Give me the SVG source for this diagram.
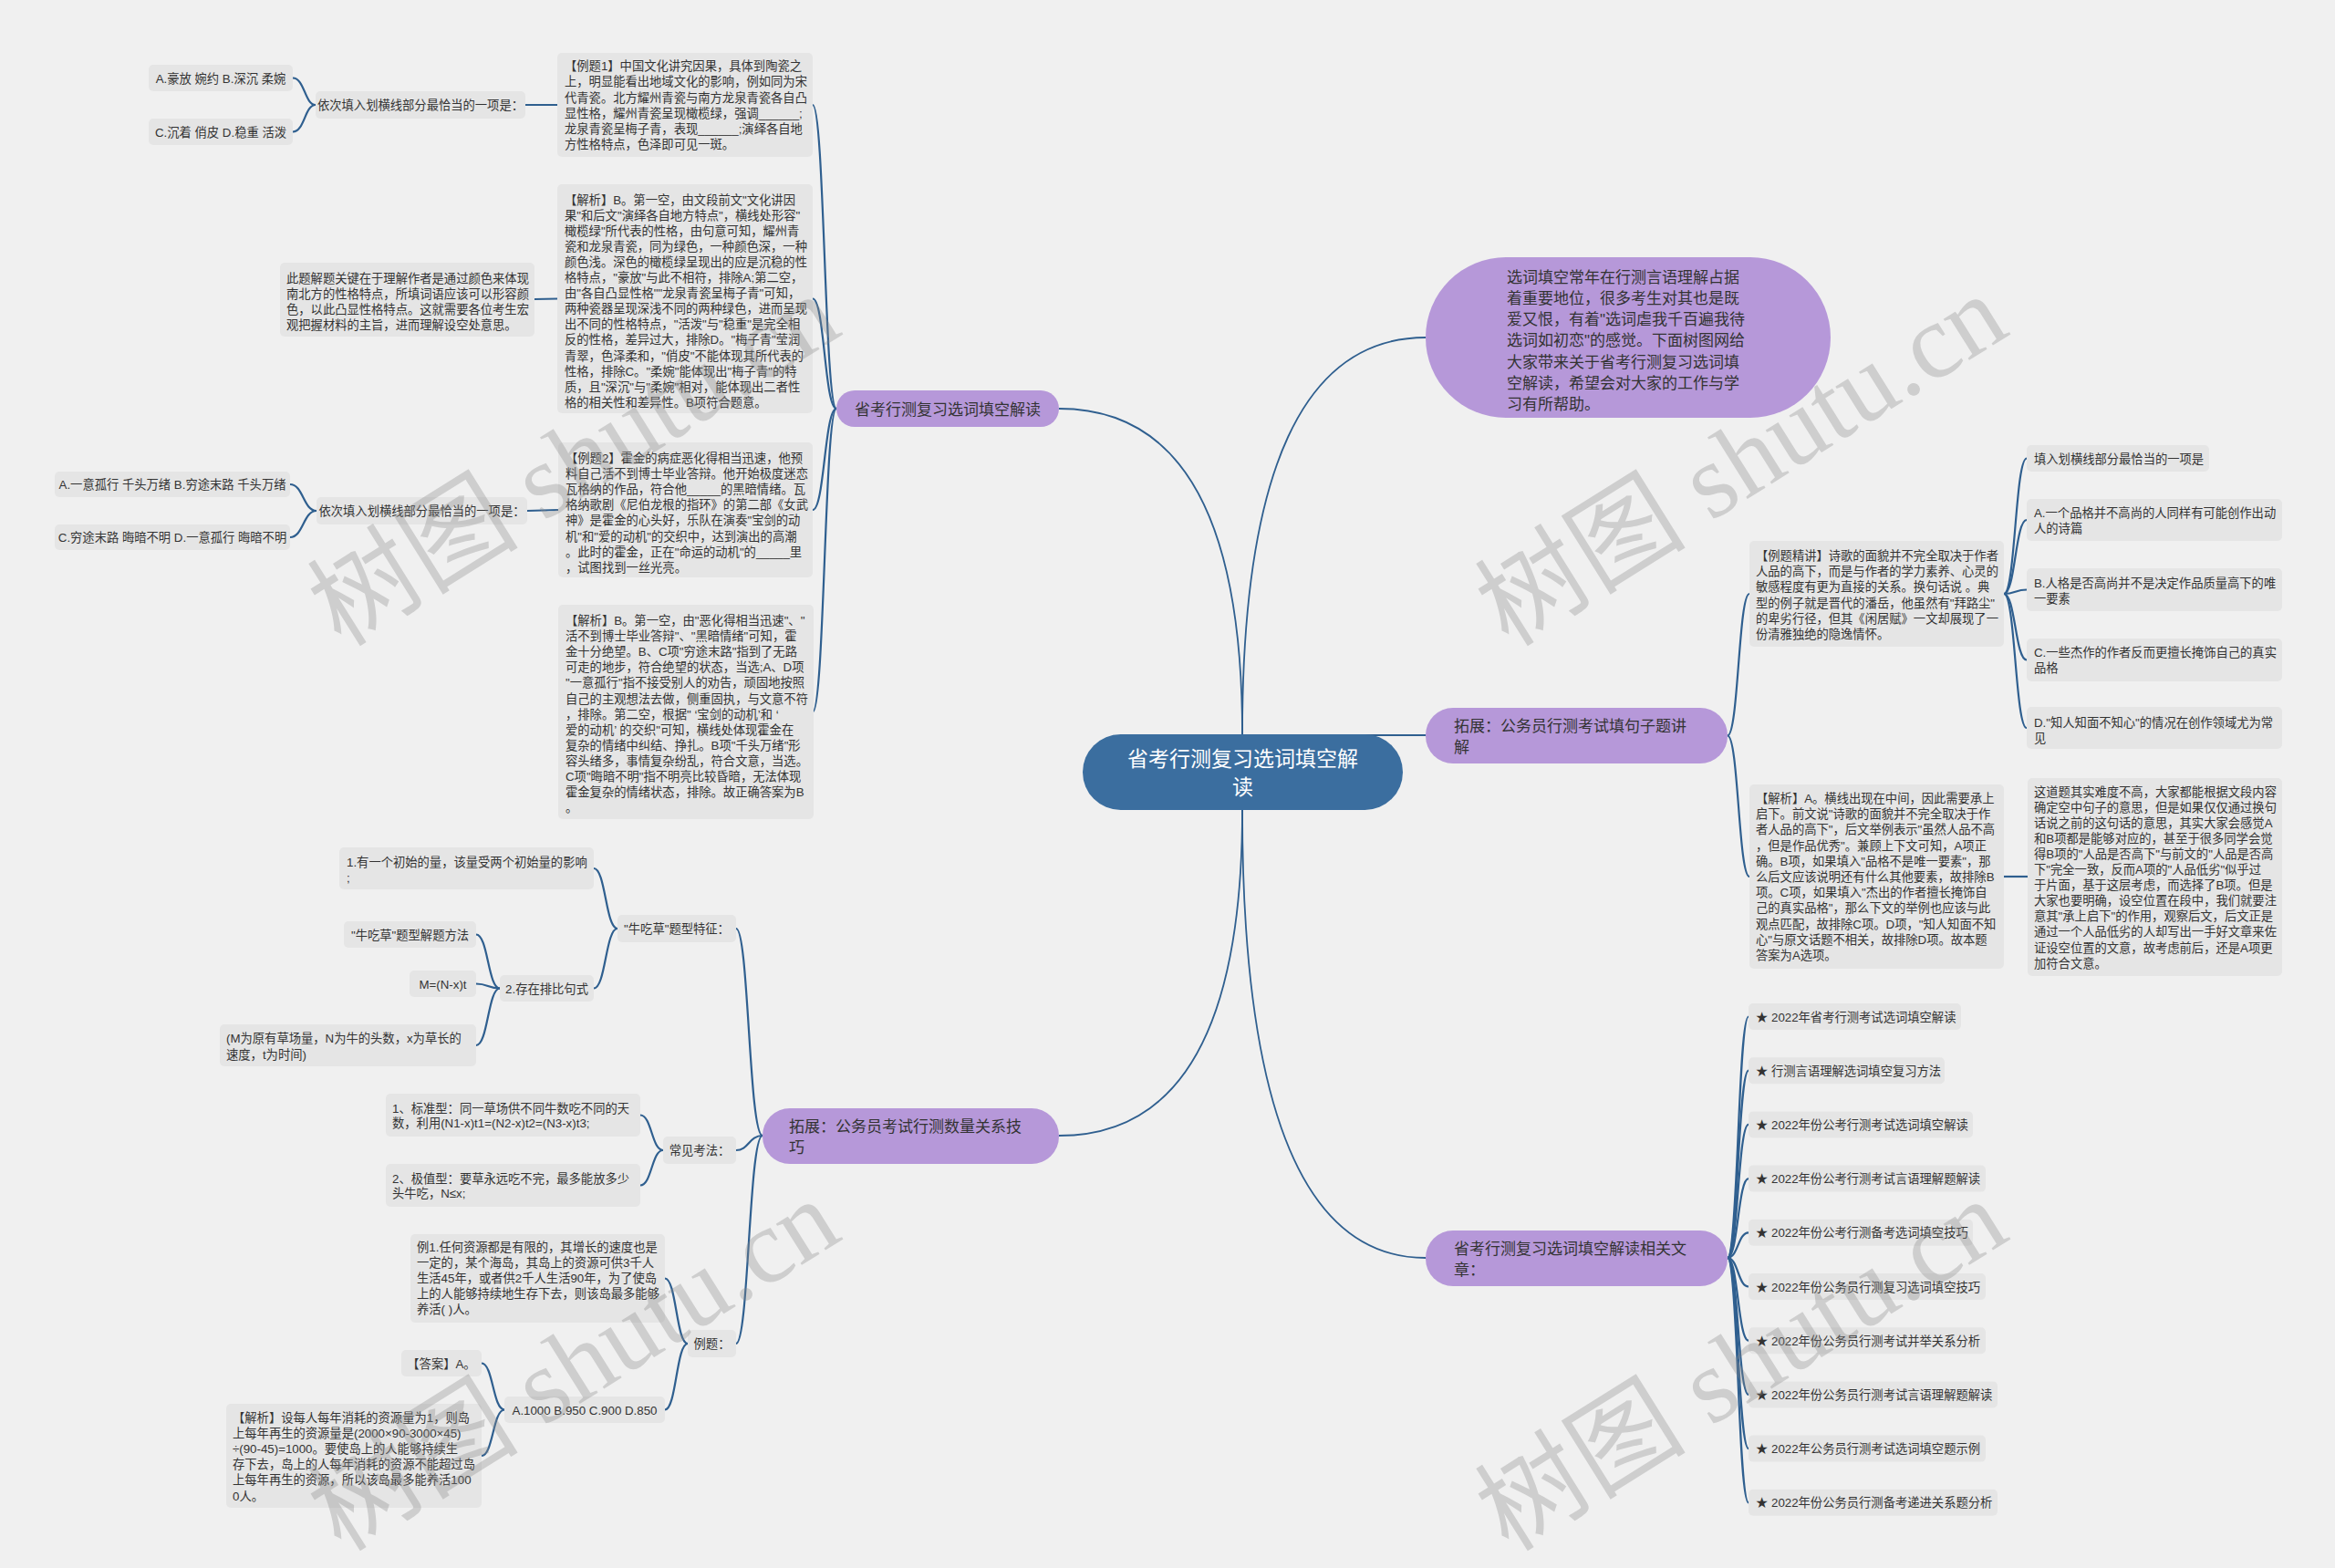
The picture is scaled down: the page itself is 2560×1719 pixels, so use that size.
<svg xmlns="http://www.w3.org/2000/svg" width="2560" height="1719" viewBox="0 0 2560 1719">
<style>
.bg{fill:#f0f0f0}
.lf{fill:#e5e5e5}
.l1{fill:#b698d9}
.rt{fill:#3b6e9f}
text{font-family:"Liberation Sans","Noto Sans CJK SC",sans-serif;fill:#333}
.s{font-size:13.3px}
.m{font-size:17px}
.r{font-size:23px;fill:#ffffff}
.mid{text-anchor:middle}
.cn{fill:none;stroke:#2f5f8f;stroke-width:2.2}
.mn{fill:none;stroke:#2f5f8f;stroke-width:1.8}
.wm{font-family:"Liberation Serif","Noto Sans CJK SC",serif;font-size:116px;fill:#8a8a8a;opacity:0.33;text-anchor:middle}
</style>
<rect class="bg" x="0" y="0" width="2560" height="1719"/>
<g id="connectors">
<path class="mn" d="M1362,805 Q1362,448 1161,448"/>
<path class="mn" d="M1362,888 Q1362,1245 1161,1245"/>
<path class="mn" d="M1362,805 Q1362,370 1563,370"/>
<path class="mn" d="M1362,806 L1563,806"/>
<path class="mn" d="M1362,888 Q1362,1379 1563,1379"/>
<path class="cn" d="M917,448 C904,448 904,115 891,115"/>
<path class="cn" d="M917,448 C904,448 904,327.5 891,327.5"/>
<path class="cn" d="M917,448 C904,448 904,559 891,559"/>
<path class="cn" d="M917,448 C904,448 904,780.5 891,780.5"/>
<path class="cn" d="M611,115 L576,115"/>
<path class="cn" d="M346,115 C334,115 334,85.5 321,85.5"/>
<path class="cn" d="M346,115 C334,115 334,144.5 321,144.5"/>
<path class="cn" d="M611,327.5 L586,328"/>
<path class="cn" d="M612,559 L578,560"/>
<path class="cn" d="M347,560 C332.5,560 332.5,531 318,531"/>
<path class="cn" d="M347,560 C332.5,560 332.5,589 318,589"/>
<path class="cn" d="M836,1245 C821,1245 821,1018 807,1018"/>
<path class="cn" d="M836,1245 C821,1245 821,1261 807,1261"/>
<path class="cn" d="M836,1245 C821,1245 821,1473 807,1473"/>
<path class="cn" d="M677,1018 C664,1018 664,952 651,952"/>
<path class="cn" d="M677,1018 C664,1018 664,1083.5 651,1083.5"/>
<path class="cn" d="M548,1083.5 C535,1083.5 535,1024.5 522,1024.5"/>
<path class="cn" d="M548,1083.5 C535,1083.5 535,1078.5 522,1078.5"/>
<path class="cn" d="M548,1083.5 C535,1083.5 535,1146 522,1146"/>
<path class="cn" d="M727,1261 C714.5,1261 714.5,1222.5 702,1222.5"/>
<path class="cn" d="M727,1261 C714.5,1261 714.5,1299.5 702,1299.5"/>
<path class="cn" d="M754,1473 C741.5,1473 741.5,1401.5 729,1401.5"/>
<path class="cn" d="M754,1473 C741.5,1473 741.5,1545.5 729,1545.5"/>
<path class="cn" d="M553,1545.5 C540.5,1545.5 540.5,1494.5 528,1494.5"/>
<path class="cn" d="M553,1545.5 C540.5,1545.5 540.5,1596 528,1596"/>
<path class="cn" d="M1894,806.5 C1906,806.5 1906,651 1918,651"/>
<path class="cn" d="M1894,806.5 C1906,806.5 1906,961 1918,961"/>
<path class="cn" d="M2197,651 C2209.5,651 2209.5,502.5 2222,502.5"/>
<path class="cn" d="M2197,651 C2209.5,651 2209.5,570 2222,570"/>
<path class="cn" d="M2197,651 C2209.5,651 2209.5,646.5 2222,646.5"/>
<path class="cn" d="M2197,651 C2209.5,651 2209.5,723.5 2222,723.5"/>
<path class="cn" d="M2197,651 C2209.5,651 2209.5,798 2222,798"/>
<path class="cn" d="M2197,961 L2223,961"/>
<path class="cn" d="M1894,1379 C1905.5,1379 1905.5,1114.5 1917,1114.5"/>
<path class="cn" d="M1894,1379 C1905.5,1379 1905.5,1173.7 1917,1173.7"/>
<path class="cn" d="M1894,1379 C1905.5,1379 1905.5,1232.9 1917,1232.9"/>
<path class="cn" d="M1894,1379 C1905.5,1379 1905.5,1292.1 1917,1292.1"/>
<path class="cn" d="M1894,1379 C1905.5,1379 1905.5,1351.3 1917,1351.3"/>
<path class="cn" d="M1894,1379 C1905.5,1379 1905.5,1410.5 1917,1410.5"/>
<path class="cn" d="M1894,1379 C1905.5,1379 1905.5,1469.7 1917,1469.7"/>
<path class="cn" d="M1894,1379 C1905.5,1379 1905.5,1528.9 1917,1528.9"/>
<path class="cn" d="M1894,1379 C1905.5,1379 1905.5,1588.1 1917,1588.1"/>
<path class="cn" d="M1894,1379 C1905.5,1379 1905.5,1647.3 1917,1647.3"/>
</g>
<g id="root"><rect class="rt" x="1187" y="805" width="351" height="83" rx="41.5"/><text class="r mid"><tspan x="1362.5" y="840">省考行测复习选词填空解</tspan><tspan x="1362.5" y="871">读</tspan></text></g>
<g id="n-left-a"><rect class="l1" x="917" y="428" width="244" height="40" rx="20"/><text class="m mid" x="1039" y="454.5">省考行测复习选词填空解读</text></g>
<g id="n-left-b"><rect class="l1" x="836" y="1215" width="325" height="61" rx="30"/><text class="m"><tspan x="865" y="1240.5">拓展：公务员考试行测数量关系技</tspan><tspan x="865" y="1263.5">巧</tspan></text></g>
<g id="n-intro"><rect class="l1" x="1563" y="282" width="444" height="176" rx="88"/><text class="m"><tspan x="1652" y="309.5">选词填空常年在行测言语理解占据</tspan><tspan x="1652" y="332.8">着重要地位，很多考生对其也是既</tspan><tspan x="1652" y="356.1">爱又恨，有着"选词虐我千百遍我待</tspan><tspan x="1652" y="379.4">选词如初恋"的感觉。下面树图网给</tspan><tspan x="1652" y="402.7">大家带来关于省考行测复习选词填</tspan><tspan x="1652" y="426">空解读，希望会对大家的工作与学</tspan><tspan x="1652" y="449.3">习有所帮助。</tspan></text></g>
<g id="n-right-d"><rect class="l1" x="1563" y="776" width="331" height="61" rx="30"/><text class="m"><tspan x="1594" y="801.5">拓展：公务员行测考试填句子题讲</tspan><tspan x="1594" y="824.5">解</tspan></text></g>
<g id="n-right-e"><rect class="l1" x="1563" y="1349" width="331" height="61" rx="30"/><text class="m"><tspan x="1594" y="1374.5">省考行测复习选词填空解读相关文</tspan><tspan x="1594" y="1397.5">章：</tspan></text></g>
<g id="n-ex1"><rect class="lf" x="611" y="58" width="280" height="114" rx="5"/><text class="s"><tspan x="619" y="77.3">【例题1】中国文化讲究因果，具体到陶瓷之</tspan><tspan x="619" y="94.4">上，明显能看出地域文化的影响，例如同为宋</tspan><tspan x="619" y="111.5">代青瓷。北方耀州青瓷与南方龙泉青瓷各自凸</tspan><tspan x="619" y="128.6">显性格，耀州青瓷呈现橄榄绿，强调______;</tspan><tspan x="619" y="145.7">龙泉青瓷呈梅子青，表现______;演绎各自地</tspan><tspan x="619" y="162.8">方性格特点，色泽即可见一斑。</tspan></text></g>
<g id="n-q1"><rect class="lf" x="346" y="100" width="230" height="30" rx="5"/><text class="s mid" x="461" y="120">依次填入划横线部分最恰当的一项是：</text></g>
<g id="n-q1a"><rect class="lf" x="163" y="71" width="158" height="29" rx="5"/><text class="s mid" x="242" y="90.5">A.豪放 婉约 B.深沉 柔婉</text></g>
<g id="n-q1c"><rect class="lf" x="163" y="130" width="158" height="29" rx="5"/><text class="s mid" x="242" y="149.5">C.沉着 俏皮 D.稳重 活泼</text></g>
<g id="n-ana1"><rect class="lf" x="611" y="202" width="280" height="251" rx="5"/><text class="s"><tspan x="619" y="223.5">【解析】B。第一空，由文段前文"文化讲因</tspan><tspan x="619" y="240.6">果"和后文"演绎各自地方特点"，横线处形容"</tspan><tspan x="619" y="257.7">橄榄绿"所代表的性格，由句意可知，耀州青</tspan><tspan x="619" y="274.8">瓷和龙泉青瓷，同为绿色，一种颜色深，一种</tspan><tspan x="619" y="291.9">颜色浅。深色的橄榄绿呈现出的应是沉稳的性</tspan><tspan x="619" y="309">格特点，"豪放"与此不相符，排除A;第二空，</tspan><tspan x="619" y="326.1">由"各自凸显性格""龙泉青瓷呈梅子青"可知，</tspan><tspan x="619" y="343.2">两种瓷器呈现深浅不同的两种绿色，进而呈现</tspan><tspan x="619" y="360.3">出不同的性格特点，"活泼"与"稳重"是完全相</tspan><tspan x="619" y="377.4">反的性格，差异过大，排除D。"梅子青"莹润</tspan><tspan x="619" y="394.5">青翠，色泽柔和，"俏皮"不能体现其所代表的</tspan><tspan x="619" y="411.6">性格，排除C。"柔婉"能体现出"梅子青"的特</tspan><tspan x="619" y="428.7">质，且"深沉"与"柔婉"相对，能体现出二者性</tspan><tspan x="619" y="445.8">格的相关性和差异性。B项符合题意。</tspan></text></g>
<g id="n-ana1-note"><rect class="lf" x="307" y="288" width="279" height="81" rx="5"/><text class="s"><tspan x="314" y="310">此题解题关键在于理解作者是通过颜色来体现</tspan><tspan x="314" y="327">南北方的性格特点，所填词语应该可以形容颜</tspan><tspan x="314" y="344">色，以此凸显性格特点。这就需要各位考生宏</tspan><tspan x="314" y="361">观把握材料的主旨，进而理解设空处意思。</tspan></text></g>
<g id="n-ex2"><rect class="lf" x="612" y="485" width="279" height="148" rx="5"/><text class="s"><tspan x="620" y="507">【例题2】霍金的病症恶化得相当迅速，他预</tspan><tspan x="620" y="524.1">料自己活不到博士毕业答辩。他开始极度迷恋</tspan><tspan x="620" y="541.2">瓦格纳的作品，符合他_____的黑暗情绪。瓦</tspan><tspan x="620" y="558.3">格纳歌剧《尼伯龙根的指环》的第二部《女武</tspan><tspan x="620" y="575.4">神》是霍金的心头好，乐队在演奏"宝剑的动</tspan><tspan x="620" y="592.5">机"和"爱的动机"的交织中，达到演出的高潮</tspan><tspan x="620" y="609.6">。此时的霍金，正在"命运的动机"的_____里</tspan><tspan x="620" y="626.7">，试图找到一丝光亮。</tspan></text></g>
<g id="n-q2"><rect class="lf" x="347" y="545" width="231" height="30" rx="5"/><text class="s mid" x="462.5" y="565">依次填入划横线部分最恰当的一项是：</text></g>
<g id="n-q2a"><rect class="lf" x="60" y="517" width="258" height="28" rx="5"/><text class="s mid" x="189" y="536">A.一意孤行 千头万绪 B.穷途末路 千头万绪</text></g>
<g id="n-q2c"><rect class="lf" x="60" y="575" width="258" height="28" rx="5"/><text class="s mid" x="189" y="594">C.穷途末路 晦暗不明 D.一意孤行 晦暗不明</text></g>
<g id="n-ana2"><rect class="lf" x="612" y="663" width="280" height="235" rx="5"/><text class="s"><tspan x="620" y="685">【解析】B。第一空，由"恶化得相当迅速"、"</tspan><tspan x="620" y="702.1">活不到博士毕业答辩"、"黑暗情绪"可知，霍</tspan><tspan x="620" y="719.2">金十分绝望。B、C项"穷途末路"指到了无路</tspan><tspan x="620" y="736.3">可走的地步，符合绝望的状态，当选;A、D项</tspan><tspan x="620" y="753.4">"一意孤行"指不接受别人的劝告，顽固地按照</tspan><tspan x="620" y="770.5">自己的主观想法去做，侧重固执，与文意不符</tspan><tspan x="620" y="787.6">，排除。第二空，根据" ‘宝剑的动机’和 ‘</tspan><tspan x="620" y="804.7">爱的动机’ 的交织"可知，横线处体现霍金在</tspan><tspan x="620" y="821.8">复杂的情绪中纠结、挣扎。B项"千头万绪"形</tspan><tspan x="620" y="838.9">容头绪多，事情复杂纷乱，符合文意，当选。</tspan><tspan x="620" y="856">C项"晦暗不明"指不明亮比较昏暗，无法体现</tspan><tspan x="620" y="873.1">霍金复杂的情绪状态，排除。故正确答案为B</tspan><tspan x="620" y="890.2">。</tspan></text></g>
<g id="n-feature"><rect class="lf" x="677" y="1003" width="130" height="30" rx="5"/><text class="s mid" x="742" y="1023">"牛吃草"题型特征：</text></g>
<g id="n-f1"><rect class="lf" x="372" y="929" width="279" height="46" rx="5"/><text class="s"><tspan x="380" y="950">1.有一个初始的量，该量受两个初始量的影响</tspan><tspan x="380" y="967">;</tspan></text></g>
<g id="n-f2"><rect class="lf" x="548" y="1069" width="103" height="29" rx="5"/><text class="s mid" x="599.5" y="1088.5">2.存在排比句式</text></g>
<g id="n-method"><rect class="lf" x="377" y="1010" width="145" height="29" rx="5"/><text class="s mid" x="449.5" y="1029.5">"牛吃草"题型解题方法</text></g>
<g id="n-formula"><rect class="lf" x="449" y="1064" width="73" height="29" rx="5"/><text class="s mid" x="485.5" y="1083.5">M=(N-x)t</text></g>
<g id="n-vars"><rect class="lf" x="241" y="1123" width="281" height="46" rx="5"/><text class="s"><tspan x="248" y="1143">(M为原有草场量，N为牛的头数，x为草长的</tspan><tspan x="248" y="1161">速度，t为时间)</tspan></text></g>
<g id="n-common"><rect class="lf" x="727" y="1246" width="80" height="30" rx="5"/><text class="s mid" x="767" y="1266">常见考法：</text></g>
<g id="n-std"><rect class="lf" x="423" y="1199" width="279" height="47" rx="5"/><text class="s"><tspan x="430" y="1220">1、标准型：同一草场供不同牛数吃不同的天</tspan><tspan x="430" y="1236">数，利用(N1-x)t1=(N2-x)t2=(N3-x)t3;</tspan></text></g>
<g id="n-ext"><rect class="lf" x="423" y="1276" width="279" height="47" rx="5"/><text class="s"><tspan x="430" y="1297">2、极值型：要草永远吃不完，最多能放多少</tspan><tspan x="430" y="1313">头牛吃，N≤x;</tspan></text></g>
<g id="n-example"><rect class="lf" x="754" y="1458" width="53" height="30" rx="5"/><text class="s mid" x="780.5" y="1478">例题：</text></g>
<g id="n-ex3"><rect class="lf" x="450" y="1353" width="279" height="97" rx="5"/><text class="s"><tspan x="457" y="1372">例1.任何资源都是有限的，其增长的速度也是</tspan><tspan x="457" y="1389.1">一定的，某个海岛，其岛上的资源可供3千人</tspan><tspan x="457" y="1406.2">生活45年，或者供2千人生活90年，为了使岛</tspan><tspan x="457" y="1423.3">上的人能够持续地生存下去，则该岛最多能够</tspan><tspan x="457" y="1440.4">养活( )人。</tspan></text></g>
<g id="n-choices"><rect class="lf" x="553" y="1531" width="176" height="29" rx="5"/><text class="s mid" x="641" y="1550.5">A.1000 B.950 C.900 D.850</text></g>
<g id="n-answer"><rect class="lf" x="440" y="1480" width="88" height="29" rx="5"/><text class="s mid" x="484" y="1499.5">【答案】A。</text></g>
<g id="n-ana3"><rect class="lf" x="248" y="1539" width="280" height="114" rx="5"/><text class="s"><tspan x="255" y="1559">【解析】设每人每年消耗的资源量为1，则岛</tspan><tspan x="255" y="1576.1">上每年再生的资源量是(2000×90-3000×45)</tspan><tspan x="255" y="1593.2">÷(90-45)=1000。要使岛上的人能够持续生</tspan><tspan x="255" y="1610.3">存下去，岛上的人每年消耗的资源不能超过岛</tspan><tspan x="255" y="1627.4">上每年再生的资源，所以该岛最多能养活100</tspan><tspan x="255" y="1644.5">0人。</tspan></text></g>
<g id="n-jj"><rect class="lf" x="1918" y="593" width="279" height="116" rx="5"/><text class="s"><tspan x="1925" y="614">【例题精讲】诗歌的面貌并不完全取决于作者</tspan><tspan x="1925" y="631.2">人品的高下，而是与作者的学力素养、心灵的</tspan><tspan x="1925" y="648.4">敏感程度有更为直接的关系。换句话说 。典</tspan><tspan x="1925" y="665.6">型的例子就是晋代的潘岳，他虽然有"拜路尘"</tspan><tspan x="1925" y="682.8">的卑劣行径，但其《闲居赋》一文却展现了一</tspan><tspan x="1925" y="700">份清雅独绝的隐逸情怀。</tspan></text></g>
<g id="n-o0"><rect class="lf" x="2222" y="488" width="200" height="29" rx="5"/><text class="s" x="2230" y="507.5">填入划横线部分最恰当的一项是</text></g>
<g id="n-oa"><rect class="lf" x="2222" y="547" width="280" height="46" rx="5"/><text class="s"><tspan x="2230" y="567">A.一个品格并不高尚的人同样有可能创作出动</tspan><tspan x="2230" y="584">人的诗篇</tspan></text></g>
<g id="n-ob"><rect class="lf" x="2222" y="623" width="280" height="47" rx="5"/><text class="s"><tspan x="2230" y="644">B.人格是否高尚并不是决定作品质量高下的唯</tspan><tspan x="2230" y="661">一要素</tspan></text></g>
<g id="n-oc"><rect class="lf" x="2222" y="700" width="280" height="47" rx="5"/><text class="s"><tspan x="2230" y="720">C.一些杰作的作者反而更擅长掩饰自己的真实</tspan><tspan x="2230" y="737">品格</tspan></text></g>
<g id="n-od"><rect class="lf" x="2222" y="775" width="280" height="46" rx="5"/><text class="s"><tspan x="2230" y="796.5">D."知人知面不知心"的情况在创作领域尤为常</tspan><tspan x="2230" y="813.5">见</tspan></text></g>
<g id="n-anaA"><rect class="lf" x="1918" y="860" width="279" height="202" rx="5"/><text class="s"><tspan x="1925" y="880">【解析】A。横线出现在中间，因此需要承上</tspan><tspan x="1925" y="897.2">启下。前文说"诗歌的面貌并不完全取决于作</tspan><tspan x="1925" y="914.4">者人品的高下"，后文举例表示"虽然人品不高</tspan><tspan x="1925" y="931.6">，但是作品优秀"。兼顾上下文可知，A项正</tspan><tspan x="1925" y="948.8">确。B项，如果填入"品格不是唯一要素"，那</tspan><tspan x="1925" y="966">么后文应该说明还有什么其他要素，故排除B</tspan><tspan x="1925" y="983.2">项。C项，如果填入"杰出的作者擅长掩饰自</tspan><tspan x="1925" y="1000.4">己的真实品格"，那么下文的举例也应该与此</tspan><tspan x="1925" y="1017.6">观点匹配，故排除C项。D项，"知人知面不知</tspan><tspan x="1925" y="1034.8">心"与原文话题不相关，故排除D项。故本题</tspan><tspan x="1925" y="1052">答案为A选项。</tspan></text></g>
<g id="n-anaA-note"><rect class="lf" x="2223" y="853" width="279" height="217" rx="5"/><text class="s"><tspan x="2230" y="872.5">这道题其实难度不高，大家都能根据文段内容</tspan><tspan x="2230" y="889.6">确定空中句子的意思，但是如果仅仅通过换句</tspan><tspan x="2230" y="906.7">话说之前的这句话的意思，其实大家会感觉A</tspan><tspan x="2230" y="923.8">和B项都是能够对应的，甚至于很多同学会觉</tspan><tspan x="2230" y="940.9">得B项的"人品是否高下"与前文的"人品是否高</tspan><tspan x="2230" y="958">下"完全一致，反而A项的"人品低劣"似乎过</tspan><tspan x="2230" y="975.1">于片面，基于这层考虑，而选择了B项。但是</tspan><tspan x="2230" y="992.2">大家也要明确，设空位置在段中，我们就要注</tspan><tspan x="2230" y="1009.3">意其"承上启下"的作用，观察后文，后文正是</tspan><tspan x="2230" y="1026.4">通过一个人品低劣的人却写出一手好文章来佐</tspan><tspan x="2230" y="1043.5">证设空位置的文意，故考虑前后，还是A项更</tspan><tspan x="2230" y="1060.6">加符合文意。</tspan></text></g>
<g id="n-l1"><rect class="lf" x="1917" y="1100" width="233" height="29" rx="5"/><text class="s" x="1925" y="1119.5">★ 2022年省考行测考试选词填空解读</text></g>
<g id="n-l2"><rect class="lf" x="1917" y="1159.2" width="215" height="29" rx="5"/><text class="s" x="1925" y="1178.7">★ 行测言语理解选词填空复习方法</text></g>
<g id="n-l3"><rect class="lf" x="1917" y="1218.4" width="246" height="29" rx="5"/><text class="s" x="1925" y="1237.9">★ 2022年份公考行测考试选词填空解读</text></g>
<g id="n-l4"><rect class="lf" x="1917" y="1277.6" width="260" height="29" rx="5"/><text class="s" x="1925" y="1297.1">★ 2022年份公考行测考试言语理解题解读</text></g>
<g id="n-l5"><rect class="lf" x="1917" y="1336.8" width="246" height="29" rx="5"/><text class="s" x="1925" y="1356.3">★ 2022年份公考行测备考选词填空技巧</text></g>
<g id="n-l6"><rect class="lf" x="1917" y="1396" width="260" height="29" rx="5"/><text class="s" x="1925" y="1415.5">★ 2022年份公务员行测复习选词填空技巧</text></g>
<g id="n-l7"><rect class="lf" x="1917" y="1455.2" width="260" height="29" rx="5"/><text class="s" x="1925" y="1474.7">★ 2022年份公务员行测考试并举关系分析</text></g>
<g id="n-l8"><rect class="lf" x="1917" y="1514.4" width="273" height="29" rx="5"/><text class="s" x="1925" y="1533.9">★ 2022年份公务员行测考试言语理解题解读</text></g>
<g id="n-l9"><rect class="lf" x="1917" y="1573.6" width="260" height="29" rx="5"/><text class="s" x="1925" y="1593.1">★ 2022年公务员行测考试选词填空题示例</text></g>
<g id="n-l10"><rect class="lf" x="1917" y="1632.8" width="273" height="29" rx="5"/><text class="s" x="1925" y="1652.3">★ 2022年份公务员行测备考递进关系题分析</text></g>
<g id="watermarks">
<text class="wm" transform="translate(650,538) rotate(-32)">树图 shutu.cn</text>
<text class="wm" transform="translate(1930,538) rotate(-32)">树图 shutu.cn</text>
<text class="wm" transform="translate(650,1530) rotate(-32)">树图 shutu.cn</text>
<text class="wm" transform="translate(1930,1530) rotate(-32)">树图 shutu.cn</text>
</g>
</svg>
